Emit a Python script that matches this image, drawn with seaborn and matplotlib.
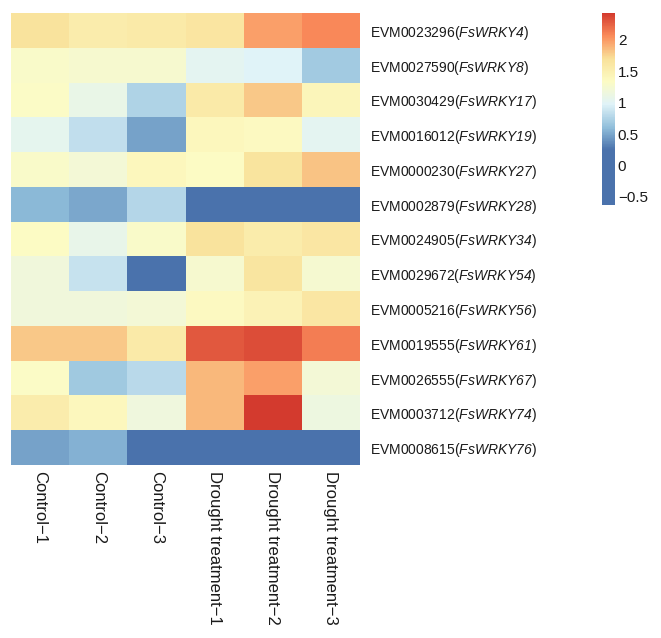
import matplotlib as mpl
from matplotlib import pyplot as plt
from matplotlib.colors import LinearSegmentedColormap
import seaborn as sns
import numpy as np
import pandas as pd

samples = ["Control\u22121", "Control\u22122", "Control\u22123",
           "Drought treatment\u22121", "Drought treatment\u22122", "Drought treatment\u22123"]
gene_ids = ["EVM0023296", "EVM0027590", "EVM0030429", "EVM0016012", "EVM0000230",
            "EVM0002879", "EVM0024905", "EVM0029672", "EVM0005216", "EVM0019555",
            "EVM0026555", "EVM0003712", "EVM0008615"]
gene_names = ["FsWRKY4", "FsWRKY8", "FsWRKY17", "FsWRKY19", "FsWRKY27",
              "FsWRKY28", "FsWRKY34", "FsWRKY54", "FsWRKY56", "FsWRKY61",
              "FsWRKY67", "FsWRKY74", "FsWRKY76"]

wrky4 = [1.67, 1.54, 1.57, 1.63, 1.98, 2.08]
wrky8 = [1.30, 1.27, 1.27, 1.02, 0.98, 0.69]
wrky17 = [1.33, 1.10, 0.75, 1.58, 1.80, 1.42]
wrky19 = [1.05, 0.83, 0.48, 1.40, 1.36, 1.02]
wrky27 = [1.30, 1.22, 1.40, 1.34, 1.66, 1.83]
wrky28 = [0.58, 0.50, 0.77, -0.63, -0.63, -0.63]
wrky34 = [1.34, 1.08, 1.30, 1.67, 1.55, 1.62]
wrky54 = [1.18, 0.86, 0.20, 1.27, 1.65, 1.25]
wrky56 = [1.18, 1.18, 1.22, 1.36, 1.45, 1.62]
wrky61 = [1.80, 1.80, 1.57, 2.29, 2.34, 2.12]
wrky67 = [1.32, 0.68, 0.80, 1.88, 1.98, 1.22]
wrky74 = [1.54, 1.40, 1.17, 1.88, 2.43, 1.15]
wrky76 = [0.47, 0.55, -0.63, -0.63, -0.63, -0.63]

rows = [wrky4, wrky8, wrky17, wrky19, wrky27, wrky28, wrky34,
        wrky54, wrky56, wrky61, wrky67, wrky74, wrky76]
labels = [gid + "($" + nm + "$)" for gid, nm in zip(gene_ids, gene_names)]
df = pd.DataFrame(rows, index=labels, columns=samples)

plt.rcParams['font.family'] = ['Liberation Sans', 'DejaVu Sans']
plt.rcParams['mathtext.fontset'] = 'custom'
plt.rcParams['mathtext.rm'] = 'Liberation Sans:italic'
plt.rcParams['mathtext.it'] = 'Liberation Sans:italic'

vmin, vmax = -0.63, 2.43
# palette is flat below ~0.25, then the usual pheatmap ramp up to the max
stops = [vmin, 0.25, 0.61, 0.98, 1.34, 1.70, 2.07, vmax]
cols = ["#4A72AC", "#4A72AC", "#91BFDB", "#E0F3F8", "#FCFBC4", "#F9E19A", "#FA8B5A", "#D33A2E"]
pos = [(s - vmin) / (vmax - vmin) for s in stops]
cmap = LinearSegmentedColormap.from_list("ph", list(zip(pos, cols)))

fig = plt.figure(figsize=(6.61, 6.38), dpi=100)
ax = fig.add_axes([11 / 661, 1 - 465 / 638, 349 / 661, 452 / 638])
cax = fig.add_axes([602 / 661, 1 - 205 / 638, 13 / 661, 192 / 638])

sns.heatmap(df, ax=ax, cmap=cmap, vmin=vmin, vmax=vmax, cbar_ax=cax,
            cbar_kws={"ticks": [-0.5, 0, 0.5, 1, 1.5, 2]})

ax.yaxis.tick_right()
ax.set_yticklabels(labels, rotation=0, fontsize=10, color="#1a1a1a")
ax.set_xticklabels(samples, rotation=-90, fontsize=12, color="#1a1a1a",
                   va="top", ha="center")
ax.tick_params(axis="y", length=0, pad=7)
ax.tick_params(axis="x", length=0, pad=4)
ax.set_xlabel("")
ax.set_ylabel("")

cax.tick_params(length=0, labelsize=11, pad=2, labelcolor="#1a1a1a")
cax.set_yticklabels(["\u22120.5", "0", "0.5", "1", "1.5", "2"])
cb = ax.collections[0].colorbar
cb.outline.set_visible(False)

plt.savefig("out.png", dpi=100)
